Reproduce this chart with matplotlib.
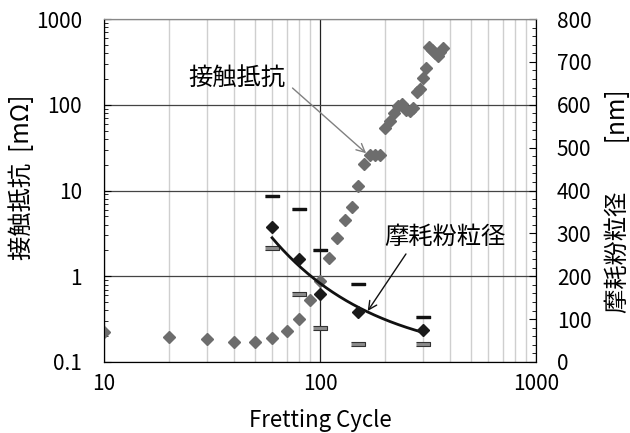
import numpy as np
import matplotlib
matplotlib.use('Agg')
import matplotlib.pyplot as plt
from matplotlib.ticker import LogLocator, MultipleLocator, NullFormatter, FixedLocator

plt.rcParams['font.family'] = ['Noto Sans CJK JP', 'DejaVu Sans']

# contact resistance [mOhm] (left axis, log)
cyc_r = [10, 20, 30, 40, 50, 60, 70, 80, 90, 100, 110, 120, 130, 140, 150, 160,
         170, 180, 190, 200, 210, 220, 230, 240, 250, 260, 270, 280, 290, 300, 310,
         320, 330, 340, 350, 360, 370]
res = [0.222, 0.196, 0.185, 0.171, 0.171, 0.192, 0.232, 0.315, 0.53, 0.89, 1.63, 2.8,
       4.5, 6.5, 11.2, 20.2, 26, 26.2, 26, 54, 64, 80, 97, 102, 87, 85, 92, 141, 153,
       205, 268, 475, 437, 401, 370, 412, 459]

# wear particle size [nm] (right axis)
cyc_w = [60, 80, 100, 150, 300]
size = [314, 240, 159, 117, 75]
size_hi = [387, 357, 261, 183, 106]
size_lo = [265, 159, 79, 43, 43]

fig = plt.figure(figsize=(6.3, 4.33), dpi=100)
ax = fig.add_axes([104/630, 1-362/433, 432/630, 343/433])
ax2 = ax.twinx()

ax.set_xscale('log')
ax.set_yscale('log')
ax.set_xlim(10, 1000)
ax.set_ylim(0.1, 1000)
ax2.set_ylim(0, 800)

# grid
ax.xaxis.set_minor_locator(LogLocator(base=10, subs=np.arange(2, 10)))
ax.xaxis.set_minor_formatter(NullFormatter())
ax.grid(True, which='minor', axis='x', color='#cfcfcf', lw=1.0)
ax.grid(True, which='major', axis='x', color='#222222', lw=0.9)
ax.grid(True, which='major', axis='y', color='#444444', lw=0.9)
ax.set_axisbelow(True)

ax.xaxis.set_major_locator(FixedLocator([10, 100, 1000]))
ax.set_xticklabels(['10', '100', '1000'])
ax.yaxis.set_major_locator(FixedLocator([0.1, 1, 10, 100, 1000]))
ax.set_yticklabels(['0.1', '1', '10', '100', '1000'])
ax.yaxis.set_minor_locator(LogLocator(base=10, subs=np.arange(2, 10)))
ax.yaxis.set_minor_formatter(NullFormatter())

ax.tick_params(axis='x', which='both', length=0, labelsize=15, pad=8)
ax.tick_params(axis='y', which='major', direction='in', length=5, labelsize=15, pad=16)
ax.tick_params(axis='y', which='minor', direction='in', length=3)

ax2.yaxis.set_major_locator(MultipleLocator(100))
ax2.yaxis.set_minor_locator(MultipleLocator(20))
ax2.tick_params(axis='y', which='major', direction='in', length=5, labelsize=15, pad=15)
ax2.tick_params(axis='y', which='minor', direction='in', length=3)

for a in (ax, ax2):
    a.spines['top'].set_color('#888888')
    a.spines['left'].set_color('black')
    a.spines['bottom'].set_color('black')
    a.spines['right'].set_color('black')

ax.plot(cyc_r, res, 'D', color='#6d6d6d', ms=6, mec='#6d6d6d', zorder=3)

# error bar caps
hi_mark = [(-1, -0.17), (1, -0.17), (1, 0.17), (-1, 0.17)]
lo_mark = [(-1, -0.28), (1, -0.28), (1, 0.28), (-1, 0.28)]
ax2.plot(cyc_w, size_hi, ls='none', marker=hi_mark, ms=10.3, color='#111111', zorder=3)
ax2.plot(cyc_w, size_lo, ls='none', marker=lo_mark, ms=10.3, mfc='#8c8c8c', mec='#333333', mew=0.8, zorder=3)

# power trendline
b, a = np.polyfit(np.log(cyc_w), np.log(size), 1)
xf = np.linspace(cyc_w[0], cyc_w[-1], 200)
ax2.plot(xf, np.exp(a) * xf**b, color='#111111', lw=2.0, zorder=4)
ax2.plot(cyc_w, size, 'D', color='#1a1a1a', ms=6.5, zorder=5)

# labels with arrows
ax.text(41.4, 205, '接触抵抗', fontsize=17.5, ha='center', va='center')
ax.annotate('', xy=(163.5, 27.2), xytext=(74.6, 156.7),
            arrowprops=dict(arrowstyle='->', color='#808080', lw=1.0,
                            shrinkA=0, shrinkB=0, mutation_scale=15))
ax2.text(377, 292, '摩耗粉粒径', fontsize=17.5, ha='center', va='center')
ax2.annotate('', xy=(166.3, 119), xytext=(250, 252),
             arrowprops=dict(arrowstyle='->', color='#111111', lw=1.0,
                             shrinkA=0, shrinkB=0, mutation_scale=15))

ax.set_xlabel('Fretting Cycle', fontsize=16, labelpad=10)
fig.text(21.7/630, 1-177/433, '接触抵抗  [mΩ]', rotation=90, fontsize=17.5,
         ha='center', va='center')
fig.text(618/630, 1-201.5/433, '摩耗粉粒径　　[nm]', rotation=90, fontsize=17.5,
         ha='center', va='center')

fig.savefig('out.png', dpi=100)
